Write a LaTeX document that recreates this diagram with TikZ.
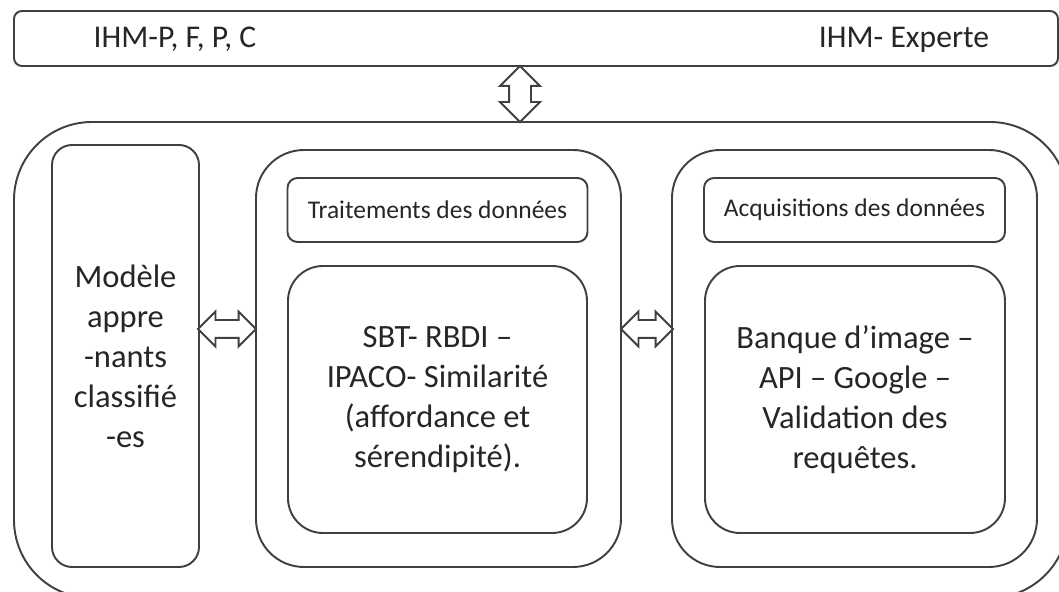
\documentclass[tikz,border=0pt]{standalone}
\usepackage{fontspec}
\setmainfont{Carlito}
\usetikzlibrary{shapes.arrows}
\definecolor{garis}{HTML}{404040}
\definecolor{tulisan}{HTML}{262626}

\begin{document}
\begin{tikzpicture}[
    line width=1.1pt, text=tulisan,
    box/.style={draw=garis, rectangle, rounded corners=#1, inner sep=0pt, align=center},
    panah/.style={draw=garis, fill=white, double arrow, double arrow head extend=#1, inner xsep=0pt}
]

    % Batas gambar
    \useasboundingbox (0,0) rectangle (21.18,11.84);
    \clip (0,0) rectangle (21.18,11.84);

    % Kotak atas (IHM)
    \node[box=0.16cm, minimum width=20.88cm, minimum height=1.10cm] (ihm) at (10.72,11.07) {};
    \node[font=\fontsize{18}{21}\selectfont] (ihmp) at (3.50,11.05) {IHM-P, F, P, C};
    \node[font=\fontsize{18}{21}\selectfont] (ihme) at (18.08,11.05) {IHM- Experte};

    % Kotak luar
    \node[box=1.56cm, minimum width=21.08cm, minimum height=9.52cm] (luar) at (10.82,4.64) {};

    % Modele apprenants
    \node[box=0.4cm, minimum width=2.94cm, minimum height=8.44cm,
          font=\fontsize{18.5}{22.8}\selectfont] (modele) at (2.51,4.72)
          {Modèle\\appre\\-nants\\classifié\\-es};

    % Traitements des donnees
    \node[box=0.96cm, minimum width=7.30cm, minimum height=8.34cm] (traite) at (8.77,4.67) {};
    \node[box=0.2cm, minimum width=6.0cm, minimum height=1.28cm,
          font=\fontsize{14.5}{17}\selectfont] (traitehead) at (8.75,7.64) {Traitements des données};
    \node[box=0.7cm, minimum width=5.98cm, minimum height=5.34cm,
          font=\fontsize{18.5}{22.8}\selectfont] (traiteisi) at (8.75,3.85)
          {SBT- RBDI –\\IPACO- Similarité\\(affordance et\\sérendipité).};

    % Acquisitions des donnees
    \node[box=0.96cm, minimum width=7.30cm, minimum height=8.34cm] (acq) at (17.09,4.67) {};
    \node[box=0.2cm, minimum width=6.02cm, minimum height=1.28cm,
          font=\fontsize{14.5}{17}\selectfont] (acqhead) at (17.09,7.64) {Acquisitions des données};
    \node[box=0.7cm, minimum width=6.0cm, minimum height=5.34cm,
          font=\fontsize{18.5}{22.8}\selectfont] (acqisi) at (17.10,3.85)
          {Banque d’image –\\API – Google –\\Validation des\\requêtes.};

    % Panah dua arah
    \node[panah=0.18cm, rotate=90, inner ysep=0.2cm, minimum height=1.12cm] (p1) at (10.40,9.96) {};
    \node[panah=0.17cm, inner ysep=0.16cm, minimum height=1.16cm] (p2) at (4.54,5.26) {};
    \node[panah=0.17cm, inner ysep=0.16cm, minimum height=1.04cm] (p3) at (12.94,5.26) {};

\end{tikzpicture}
\end{document}
